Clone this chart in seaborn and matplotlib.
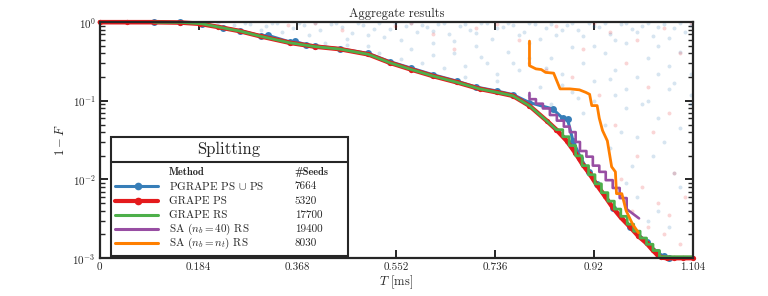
import matplotlib
matplotlib.use("Agg")
import matplotlib.pyplot as plt
from matplotlib.patches import Rectangle
from matplotlib.lines import Line2D
import seaborn as sns
import numpy as np

# ---- data ----
t_grape_ps = [0.0, 0.05, 0.10, 0.15, 0.186, 0.22, 0.261, 0.30, 0.354, 0.40, 0.447, 0.50, 0.540, 0.58,
              0.620, 0.665, 0.707, 0.74, 0.769, 0.80, 0.832, 0.850, 0.869, 0.885, 0.899, 0.912, 0.925,
              0.940, 0.955, 0.970, 0.987, 1.003, 1.018, 1.030, 1.037, 1.045, 1.056, 1.070, 1.085, 1.104]
f_grape_ps = [1.0, 1.0, 1.0, 0.99, 0.955, 0.87, 0.77, 0.66, 0.547, 0.49, 0.455, 0.39, 0.305, 0.25,
              0.207, 0.172, 0.142, 0.128, 0.116, 0.0865, 0.0558, 0.043, 0.0312, 0.022, 0.0155, 0.0118, 0.0086,
              0.0062, 0.0044, 0.0033, 0.0025, 0.0019, 0.00155, 0.00125, 0.00112, 0.00102, 0.001, 0.001, 0.001, 0.001]

t_pgrape = [0.10, 0.15, 0.19, 0.23, 0.261, 0.30, 0.313, 0.354, 0.363, 0.383, 0.40, 0.447, 0.50, 0.54,
            0.58, 0.62, 0.665, 0.70, 0.74, 0.769, 0.80, 0.843, 0.862, 0.871, 0.881, 0.895, 0.910, 0.925,
            0.955, 0.987, 1.018, 1.037, 1.050, 1.060]
f_pgrape = [1.0, 0.995, 0.96, 0.85, 0.78, 0.67, 0.68, 0.56, 0.57, 0.52, 0.50, 0.46, 0.40, 0.315,
            0.26, 0.215, 0.178, 0.15, 0.133, 0.12, 0.095, 0.079, 0.06, 0.058, 0.031, 0.019, 0.0125, 0.0088,
            0.0044, 0.0025, 0.0016, 0.0012, 0.00105, 0.001]

t_grape_rs = [0.10, 0.15, 0.19, 0.22, 0.261, 0.30, 0.354, 0.40, 0.447, 0.50, 0.54, 0.58, 0.62, 0.665,
              0.707, 0.74, 0.769, 0.80, 0.832, 0.850, 0.862, 0.862, 0.874, 0.874, 0.886, 0.886, 0.898,
              0.898, 0.910, 0.910, 0.922, 0.922, 0.934, 0.934, 0.946, 0.946, 0.958, 0.958, 0.970, 0.970,
              0.982, 0.982, 0.994, 0.994, 1.006, 1.006, 1.018, 1.018, 1.030, 1.030, 1.042, 1.042, 1.104]
f_grape_rs = [1.0, 0.995, 0.955, 0.87, 0.77, 0.66, 0.547, 0.49, 0.455, 0.39, 0.305, 0.25, 0.207, 0.172,
              0.142, 0.128, 0.116, 0.0865, 0.0558, 0.043, 0.043, 0.035, 0.035, 0.027, 0.027, 0.020, 0.020,
              0.015, 0.015, 0.0115, 0.0115, 0.0088, 0.0088, 0.0068, 0.0068, 0.0053, 0.0053, 0.0042, 0.0042,
              0.0034, 0.0034, 0.0027, 0.0027, 0.0022, 0.0022, 0.0018, 0.0018, 0.0015, 0.0015, 0.00125,
              0.00125, 0.00104, 0.00104]

t_sa40 = [0.800, 0.800, 0.812, 0.812, 0.825, 0.825, 0.838, 0.838, 0.851, 0.851, 0.864, 0.864, 0.875,
          0.875, 0.886, 0.886, 0.894, 0.894, 0.906, 0.906, 0.918, 0.918, 0.930, 0.930, 0.942, 0.942,
          0.955, 0.955, 0.968, 0.968, 0.981, 0.981, 1.004]
f_sa40 = [0.126, 0.105, 0.105, 0.092, 0.092, 0.08, 0.08, 0.066, 0.066, 0.056, 0.056, 0.047, 0.047,
          0.04, 0.04, 0.03, 0.03, 0.023, 0.023, 0.0195, 0.0195, 0.015, 0.015, 0.0125, 0.0125, 0.0098,
          0.0098, 0.0078, 0.0078, 0.0058, 0.0058, 0.0042, 0.0032]

t_sant = [0.800, 0.800, 0.812, 0.822, 0.830, 0.845, 0.857, 0.875, 0.893, 0.905, 0.912, 0.916, 0.926,
          0.930, 0.936, 0.945, 0.953, 0.960, 0.962, 0.972, 0.980, 0.992, 1.003]
f_sant = [0.575, 0.28, 0.255, 0.25, 0.23, 0.225, 0.142, 0.142, 0.138, 0.128, 0.121, 0.087, 0.087,
          0.06, 0.042, 0.031, 0.0145, 0.0125, 0.0066, 0.0066, 0.0040, 0.0027, 0.0021]

# individual seeds (faint cloud)
cloud_blue_t = [0.28, 0.31, 0.33, 0.36, 0.38, 0.41, 0.43, 0.45, 0.47, 0.49, 0.51, 0.53, 0.55, 0.57, 0.59,
                0.61, 0.63, 0.65, 0.67, 0.69, 0.71, 0.73, 0.75, 0.77, 0.79, 0.81, 0.83, 0.85, 0.87, 0.89,
                0.91, 0.93, 0.95, 0.97, 0.99, 1.01, 1.03, 1.05, 1.07, 1.09,
                0.22, 0.25, 0.27, 0.30, 0.32, 0.34, 0.37, 0.39, 0.40, 0.44, 0.46, 0.48, 0.50, 0.52, 0.54,
                0.56, 0.58, 0.60, 0.62, 0.64, 0.66, 0.68, 0.70, 0.72, 0.74, 0.76, 0.78, 0.80, 0.82, 0.84,
                0.86, 0.88, 0.90, 0.92, 0.94, 0.96, 0.98, 1.00, 1.02, 1.04, 1.06, 1.08, 1.10,
                0.42, 0.46, 0.50, 0.52, 0.56, 0.58, 0.60, 0.62, 0.64, 0.66, 0.68, 0.70, 0.72, 0.74, 0.76,
                0.78, 0.80, 0.82, 0.84, 0.86, 0.88, 0.90, 0.92, 0.94, 0.96, 0.98, 1.00, 1.02, 1.04, 1.06,
                1.08, 1.10,
                0.62, 0.68, 0.74, 0.80, 0.86, 0.92, 0.98, 1.04, 1.10, 0.71, 0.77, 0.83, 0.89, 0.95, 1.01,
                1.07,
                0.80, 0.84, 0.88, 0.90, 0.92, 0.94, 0.96, 0.98, 1.00, 1.02, 1.04, 1.06, 1.08, 1.10, 0.95,
                0.99, 1.03, 1.07, 1.05, 0.97,
                1.00, 1.04, 1.08, 0.98, 1.06, 1.02]
cloud_blue_f = [0.95, 0.90, 0.97, 0.85, 0.93, 0.80, 0.96, 0.88, 0.72, 0.93, 0.83, 0.65, 0.97, 0.90, 0.75,
                0.86, 0.95, 0.70, 0.90, 0.80, 0.97, 0.62, 0.88, 0.93, 0.74, 0.96, 0.84, 0.68, 0.92, 0.79,
                0.97, 0.86, 0.71, 0.94, 0.82, 0.90, 0.66, 0.95, 0.85, 0.76,
                0.98, 0.92, 0.99, 0.80, 0.99, 0.75, 0.98, 0.68, 0.99, 0.97, 0.62, 0.99, 0.68, 0.98, 0.82,
                0.60, 0.99, 0.92, 0.78, 0.98, 0.58, 0.96, 0.72, 0.99, 0.85, 0.97, 0.68, 0.99, 0.62, 0.95,
                0.80, 0.99, 0.66, 0.90, 0.98, 0.60, 0.97, 0.75, 0.99, 0.88, 0.63, 0.98, 0.93,
                0.55, 0.52, 0.50, 0.40, 0.34, 0.45, 0.30, 0.55, 0.26, 0.40, 0.20, 0.50, 0.30, 0.18, 0.42,
                0.25, 0.55, 0.15, 0.35, 0.22, 0.48, 0.30, 0.18, 0.40, 0.25, 0.55, 0.20, 0.35, 0.50, 0.28,
                0.42, 0.22,
                0.38, 0.28, 0.22, 0.35, 0.16, 0.50, 0.14, 0.22, 0.12, 0.36, 0.30, 0.26, 0.11, 0.19, 0.09,
                0.17,
                0.12, 0.09, 0.13, 0.07, 0.10, 0.05, 0.12, 0.08, 0.035, 0.10, 0.06, 0.14, 0.045, 0.09, 0.025,
                0.015, 0.02, 0.012, 0.03, 0.04,
                0.006, 0.004, 0.008, 0.009, 0.0025, 0.003]
cloud_red_t = [0.35, 0.45, 0.55, 0.62, 0.70, 0.78, 0.85, 0.90, 0.95, 1.00, 1.05, 1.08, 0.80, 0.88, 0.93,
               0.98, 1.02, 1.06, 0.96, 1.00, 1.03, 0.97, 1.01, 1.04, 1.07, 0.99, 1.02, 1.05, 1.08, 0.94,
               1.06, 1.09, 0.40, 0.58, 0.74, 0.92, 1.10, 0.66, 0.83]
cloud_red_f = [0.92, 0.80, 0.90, 0.70, 0.85, 0.60, 0.90, 0.45, 0.75, 0.60, 0.85, 0.40, 0.30, 0.20, 0.12,
               0.30, 0.15, 0.07, 0.05, 0.02, 0.04, 0.01, 0.008, 0.005, 0.012, 0.004, 0.0025, 0.002,
               0.0015, 0.006, 0.0035, 0.006, 0.98, 0.97, 0.96, 0.99, 0.97, 0.45, 0.25]

methods = ["PGRAPE PS $\\cup$ PS", "GRAPE PS", "GRAPE RS", "SA ($n_b = 40$) RS", "SA ($n_b = n_t$) RS"]
seeds = ["7664", "5320", "17700", "19400", "8030"]
x_ticks = [0, 0.184, 0.368, 0.552, 0.736, 0.92, 1.104]
x_tick_labels = ["0", "0.184", "0.368", "0.552", "0.736", "0.92", "1.104"]

pal = sns.color_palette("Set1")
c_blue, c_red, c_green, c_purple, c_orange = pal[1], pal[0], pal[2], pal[3], pal[4]

sns.set_theme(style="ticks")
plt.rcParams['font.family'] = ['cmr10', 'DejaVu Serif']
plt.rcParams['mathtext.fontset'] = 'cm'
plt.rcParams['axes.formatter.use_mathtext'] = True
plt.rcParams['axes.unicode_minus'] = False

fig = plt.figure(figsize=(7.68, 2.96), dpi=100)
ax = fig.add_axes([0.130, 0.128, 0.772, 0.797])
spine_c = "#262626"

sns.scatterplot(x=cloud_blue_t, y=cloud_blue_f, ax=ax, color=c_blue, s=8, alpha=0.2, linewidth=0, zorder=1)
sns.scatterplot(x=cloud_red_t, y=cloud_red_f, ax=ax, color=c_red, s=8, alpha=0.18, linewidth=0, zorder=1)

sns.lineplot(x=t_pgrape, y=f_pgrape, ax=ax, color=c_blue, lw=2.2, marker="o", markersize=5,
             markeredgewidth=0, sort=False, estimator=None, zorder=3)
sns.lineplot(x=t_grape_ps, y=f_grape_ps, ax=ax, color=c_red, lw=3.3, marker="o", markersize=3.8,
             markeredgewidth=0, sort=False, estimator=None, zorder=4)
sns.lineplot(x=t_grape_rs, y=f_grape_rs, ax=ax, color=c_green, lw=2.0, sort=False, estimator=None, zorder=5)
sns.lineplot(x=t_sa40, y=f_sa40, ax=ax, color=c_purple, lw=1.9, sort=False, estimator=None, zorder=5)
sns.lineplot(x=t_sant, y=f_sant, ax=ax, color=c_orange, lw=2.0, sort=False, estimator=None, zorder=5)
for ln in ax.lines:
    ln.set_clip_on(False)

ax.set_yscale("log")
ax.set_xlim(0, 1.104)
ax.set_ylim(1e-3, 1)
ax.set_xticks(x_ticks)
ax.set_xticklabels(x_tick_labels)
ax.set_xlabel("$T$ [ms]", fontsize=9, labelpad=1)
ax.set_ylabel("$1-F$", fontsize=9, labelpad=4)
ax.set_title("Aggregate results", fontsize=9, pad=4)

for sp in ax.spines.values():
    sp.set_linewidth(1.6)
    sp.set_color(spine_c)
    sp.set_zorder(6)
ax.tick_params(which="both", direction="in", top=True, right=True, color=spine_c, labelsize=8,
               pad=3)
ax.tick_params(which="major", length=6, width=1.4)
ax.tick_params(which="minor", length=3.5, width=1.0)
ax.tick_params(axis="x", which="minor", top=False, bottom=False)

# ---- custom legend box ----
tr = ax.transAxes
ax.add_patch(Rectangle((0.0185, 0.0085), 0.40, 0.505, transform=tr, facecolor="white",
                       edgecolor=spine_c, lw=1.5, zorder=10))
ax.add_line(Line2D([0.0185, 0.4185], [0.407, 0.407], transform=tr, color=spine_c, lw=1.5, zorder=11))
ax.text(0.218, 0.462, "Splitting", transform=tr, ha="center", va="center", fontsize=12, zorder=11)
ax.text(0.1164, 0.364, "Method", transform=tr, ha="left", va="center", fontsize=7.5,
        family="cmb10", zorder=11)
ax.text(0.329, 0.364, "#Seeds", transform=tr, ha="left", va="center", fontsize=7.5,
        family="cmb10", zorder=11)
rows_y = [0.305, 0.243, 0.182, 0.123, 0.0636]
styles = [(c_blue, 2.2, "o"), (c_red, 3.0, "o"), (c_green, 2.2, None), (c_purple, 2.2, None),
          (c_orange, 2.2, None)]
for yy, (col, lw, mk), m, s in zip(rows_y, styles, methods, seeds):
    ax.add_line(Line2D([0.0253, 0.0978], [yy, yy], transform=tr, color=col, lw=lw, zorder=11))
    if mk:
        ax.add_line(Line2D([0.064], [yy], transform=tr, color=col, marker=mk, markersize=5.5,
                           markeredgewidth=0, zorder=12))
    ax.text(0.1164, yy, m, transform=tr, ha="left", va="center", fontsize=8, zorder=11)
    ax.text(0.329, yy, s, transform=tr, ha="left", va="center", fontsize=8, zorder=11)

fig.savefig("out.png", dpi=100)
